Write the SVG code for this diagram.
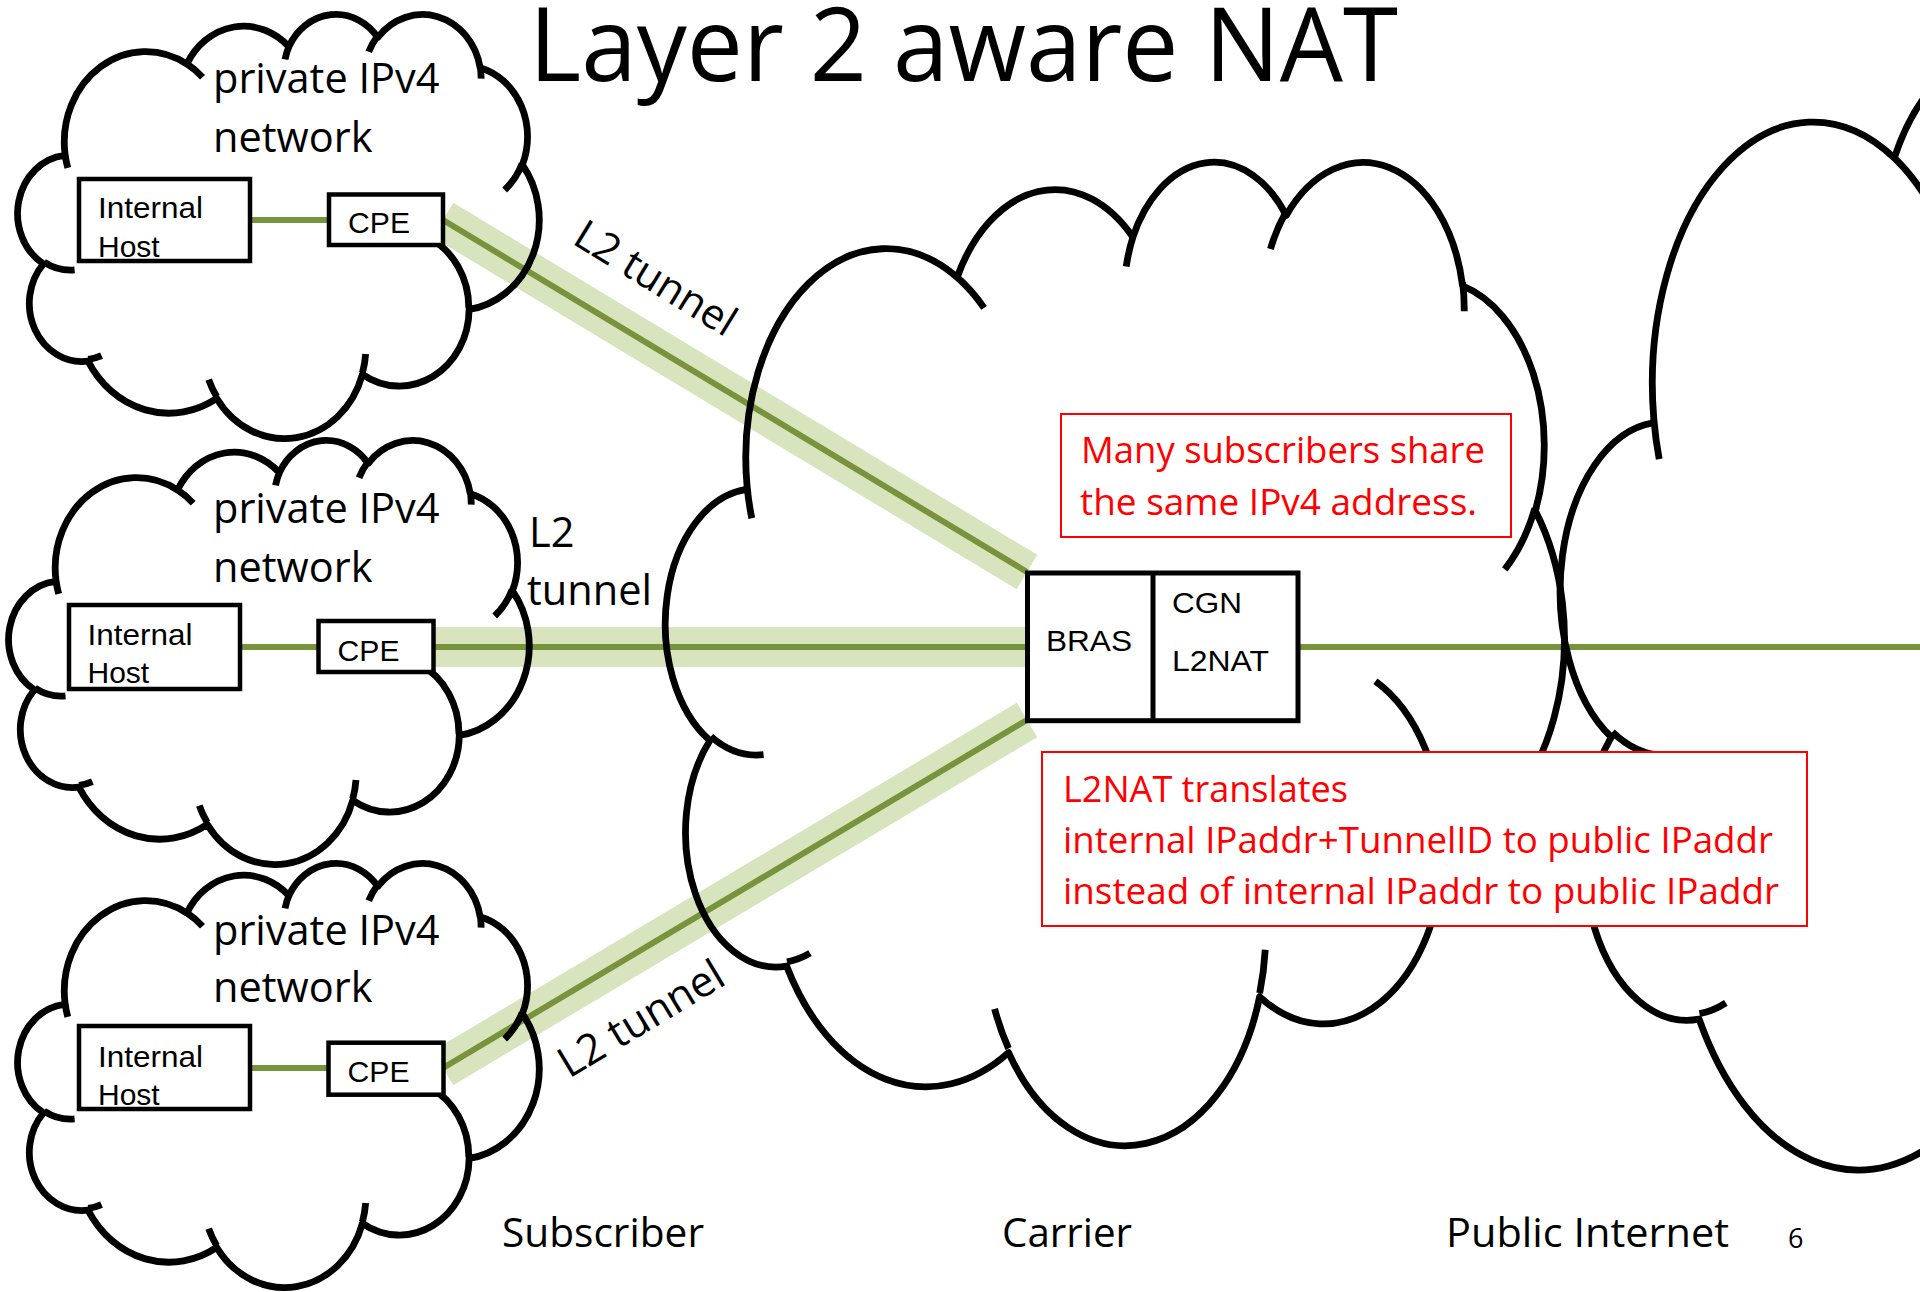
<svg xmlns="http://www.w3.org/2000/svg" xmlns:xlink="http://www.w3.org/1999/xlink" width="1920" height="1292" viewBox="0 0 1920 1292">
<style>
.cl{fill:none;stroke:#000;stroke-width:6.8;stroke-linejoin:round;vector-effect:non-scaling-stroke}
.box{fill:#fff;stroke:#000;stroke-width:4.5}
.band{stroke:#D7E4BD;stroke-width:40;fill:none}
.ln{stroke:#77933C;stroke-width:6;fill:none}
.ar{font-family:"Liberation Sans",Arial,sans-serif;font-size:30px;fill:#000}
.os{font-family:"Open Sans","Noto Sans",sans-serif;fill:#000}
.lbl{font-size:41.5px}
.red{font-family:"Open Sans","Noto Sans",sans-serif;font-size:36.5px;fill:#FF0000}
.rbox{fill:#fff;stroke:#FF0000;stroke-width:2}
</style>
<defs>
<path id="cloud" class="cl" d="M3900 14370A6753 9190 0 0 1 14006 5202A5333 7267 0 0 1 22458 3434A4365 5945 0 0 1 29835 2483A4857 6595 0 0 1 38320 5578A5333 7273 0 0 1 41820 15462A6775 9220 0 0 1 37406 30205A5785 7867 0 0 1 28557 36815A6752 9215 0 0 1 16482 39269A7720 10543 0 0 1 5806 35474A4360 5918 0 0 1 2112 25557A4345 5945 0 0 1 3863 14514Z M4693 26177A4345 5945 0 0 1 2159 25380M6928 34899A4360 5918 0 0 1 5819 35281M16478 39090A6752 9215 0 0 1 15809 37348M28827 34751A6752 9215 0 0 1 28561 36660M34129 22954A5785 7867 0 0 1 37381 30090M41798 15354A5333 7273 0 0 1 40350 18030M38324 5426A4857 6595 0 0 1 38400 6690M29078 3952A4857 6595 0 0 1 29820 2340M22141 4720A4365 5945 0 0 1 22500 3330M14000 5192A6753 9190 0 0 1 15301 6543M4127 15789A6753 9190 0 0 1 3900 14370"/>
</defs>
<rect width="1920" height="1292" fill="#fff"/>

<g id="connectors">
<line class="band" x1="443" y1="220" x2="1027" y2="572"/>
<line class="band" x1="433" y1="647" x2="1027" y2="647"/>
<line class="band" x1="443" y1="1068" x2="1027" y2="720"/>
<line class="ln" x1="443" y1="220" x2="1027" y2="572"/>
<line class="ln" x1="433" y1="647" x2="1027" y2="647"/>
<line class="ln" x1="443" y1="1068" x2="1027" y2="720"/>
<line class="ln" x1="1298" y1="647" x2="1920" y2="647"/>
<line class="ln" x1="250" y1="220" x2="329" y2="220"/>
<line class="ln" x1="240" y1="647" x2="319" y2="647"/>
<line class="ln" x1="250" y1="1068" x2="329" y2="1068"/>
</g>

<g id="cloud-subscriber-1">
<use xlink:href="#cloud" transform="translate(18 13) scale(0.012060 0.0098148)"/>
<text class="os lbl" x="213" y="93">private IPv4</text>
<text class="os lbl" x="213" y="152">network</text>
</g>
<g id="cloud-subscriber-2">
<use xlink:href="#cloud" transform="translate(9 439) scale(0.012037 0.0098148)"/>
<text class="os lbl" x="213" y="523">private IPv4</text>
<text class="os lbl" x="213" y="582">network</text>
</g>
<g id="cloud-subscriber-3">
<use xlink:href="#cloud" transform="translate(18 862) scale(0.012060 0.0098148)"/>
<text class="os lbl" x="213" y="945">private IPv4</text>
<text class="os lbl" x="213" y="1002">network</text>
</g>
<g id="cloud-carrier">
<use xlink:href="#cloud" transform="translate(666 159) scale(0.020787 0.022755)"/>
</g>
<g id="cloud-public">
<use xlink:href="#cloud" transform="translate(1561 10) scale(0.023796 0.028449)"/>
</g>

<g id="host-1">
<rect class="box" x="79" y="179" width="171" height="82"/>
<text class="ar" x="98" y="218" textLength="105" lengthAdjust="spacingAndGlyphs">Internal</text>
<text class="ar" x="98" y="257">Host</text>
</g>
<g id="cpe-1">
<rect class="box" x="329" y="194.5" width="114" height="50.5"/>
<text class="ar" x="348" y="233" textLength="62" lengthAdjust="spacingAndGlyphs">CPE</text>
</g>
<g id="host-2">
<rect class="box" x="69" y="605" width="171" height="84"/>
<text class="ar" x="87.5" y="645" textLength="105" lengthAdjust="spacingAndGlyphs">Internal</text>
<text class="ar" x="87.5" y="683">Host</text>
</g>
<g id="cpe-2">
<rect class="box" x="318.5" y="621" width="115" height="51"/>
<text class="ar" x="337.5" y="661" textLength="62" lengthAdjust="spacingAndGlyphs">CPE</text>
</g>
<g id="host-3">
<rect class="box" x="79" y="1026" width="171" height="83"/>
<text class="ar" x="98" y="1067" textLength="105" lengthAdjust="spacingAndGlyphs">Internal</text>
<text class="ar" x="98" y="1105">Host</text>
</g>
<g id="cpe-3">
<rect class="box" x="328.5" y="1042.7" width="115" height="52"/>
<text class="ar" x="347.5" y="1082" textLength="62" lengthAdjust="spacingAndGlyphs">CPE</text>
</g>

<g id="bras-cgn">
<rect x="1027.5" y="573" width="270.5" height="147.7" fill="#fff" stroke="#000" stroke-width="5"/>
<line x1="1153" y1="573" x2="1153" y2="720.7" stroke="#000" stroke-width="5"/>
<text class="ar" x="1046" y="651" textLength="86" lengthAdjust="spacingAndGlyphs">BRAS</text>
<text class="ar" x="1172" y="613" textLength="70" lengthAdjust="spacingAndGlyphs">CGN</text>
<text class="ar" x="1172" y="671" textLength="97" lengthAdjust="spacingAndGlyphs">L2NAT</text>
</g>

<g id="note-share">
<rect class="rbox" x="1061" y="414" width="450" height="123"/>
<text class="red" x="1081" y="463" textLength="404" lengthAdjust="spacingAndGlyphs">Many subscribers share</text>
<text class="red" x="1080" y="515" textLength="397" lengthAdjust="spacingAndGlyphs">the same IPv4 address.</text>
</g>
<g id="note-l2nat">
<rect class="rbox" x="1042" y="752" width="765" height="174"/>
<text class="red" x="1063" y="802" textLength="285" lengthAdjust="spacingAndGlyphs">L2NAT translates</text>
<text class="red" x="1063" y="853" textLength="710" lengthAdjust="spacingAndGlyphs">internal IPaddr+TunnelID to public IPaddr</text>
<text class="red" x="1063" y="904" textLength="716" lengthAdjust="spacingAndGlyphs">instead of internal IPaddr to public IPaddr</text>
</g>

<g id="labels">
<text class="os" x="529" y="81" font-size="102" textLength="869" lengthAdjust="spacingAndGlyphs">Layer 2 aware NAT</text>
<text class="os lbl" transform="translate(571 243) rotate(31.5)">L2 tunnel</text>
<text class="os lbl" x="529" y="547">L2</text>
<text class="os lbl" x="527" y="605">tunnel</text>
<text class="os" font-size="42.5" transform="translate(569 1079) rotate(-31)">L2 tunnel</text>
<text class="os" x="502" y="1247" font-size="40.5" textLength="202" lengthAdjust="spacingAndGlyphs">Subscriber</text>
<text class="os" x="1002" y="1247" font-size="40.5" textLength="130" lengthAdjust="spacingAndGlyphs">Carrier</text>
<text class="os" x="1446" y="1247" font-size="40.5" textLength="283" lengthAdjust="spacingAndGlyphs">Public Internet</text>
<text class="os" x="1788" y="1248" font-size="27" fill="#898989">6</text>
</g>
</svg>
